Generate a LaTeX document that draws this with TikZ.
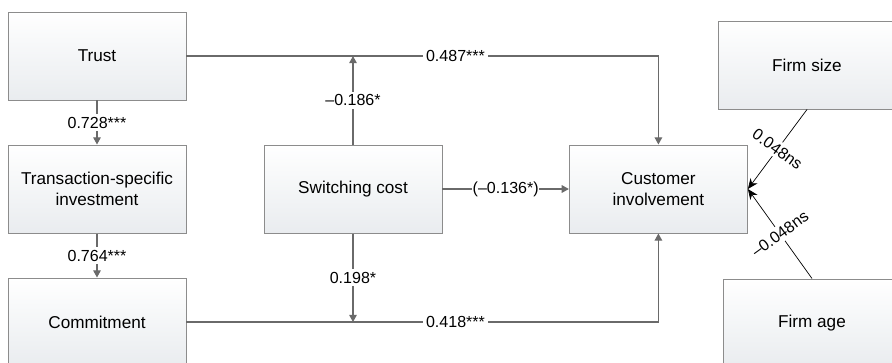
\documentclass[tikz,border=0pt]{standalone}
\usepackage{fontspec}
\setmainfont{Liberation Sans}
\usepackage{xcolor}
\usepackage{tikz}
\usetikzlibrary{arrows.meta,shadows}

\definecolor{linegray}{HTML}{6A6A6A}
\definecolor{boxline}{HTML}{8C8C8C}
\definecolor{boxfoot}{HTML}{E9ECEF}

\begin{document}
\begin{tikzpicture}[
  font=\fontsize{12.2}{15.4}\selectfont,
  varbox/.style={draw=boxline, line width=0.7pt, top color=white, bottom color=boxfoot,
                 minimum width=4.45cm, minimum height=2.2cm, align=center,
                 drop shadow={shadow xshift=0.7pt, shadow yshift=-0.7pt, fill=gray!45}},
  lbl/.style={fill=white, inner sep=2pt, font=\fontsize{11.4}{13}\selectfont},
  arr/.style={-{Triangle[length=1.8mm, width=1.9mm]}, draw=linegray, line width=0.9pt},
  ctrl/.style={-{Stealth[length=2.6mm, width=2.2mm]}, draw=black, line width=0.5pt}
]
\useasboundingbox (0,0) rectangle (22.3,-9.05);
%--- Column 1: trust chain ---------------------------------------------------
\node[varbox] (trust)  at (2.425,-1.4)   {Trust};
\node[varbox] (tsi)    at (2.425,-4.725) {Transaction-specific\\investment};
\node[varbox] (commit) at (2.425,-8.05)  {Commitment};
%--- Middle: moderator and outcome -------------------------------------------
\node[varbox] (switch)  at (8.825,-4.725) {Switching cost};
\node[varbox] (involve) at (16.46,-4.725) {Customer\\involvement};
%--- Right: controls ---------------------------------------------------------
\node[varbox] (fsize) at (20.175,-1.625) {Firm size};
\node[varbox] (fage)  at (20.3,-8.075)   {Firm age};
%--- Arrows: trust chain -----------------------------------------------------
\draw[arr] (trust.south) -- node[lbl]{0.728***} (tsi.north);
\draw[arr] (tsi.south)   -- node[lbl]{0.764***} (commit.north);
%--- Arrows: direct paths to involvement -------------------------------------
\draw[arr] (trust.east) -- node[lbl, pos=0.57]{0.487***} (trust.east -| involve.north) -- (involve.north);
\draw[arr] (commit.east) -- node[lbl, pos=0.57]{0.418***} (commit.east -| involve.south) -- (involve.south);
%--- Arrows: switching cost --------------------------------------------------
\draw[arr] (switch.north) -- node[lbl]{--0.186*} (switch.north |- trust.east);
\draw[arr] (switch.south) -- node[lbl]{0.198*} (switch.south |- commit.east);
\draw[arr] (switch) -- node[lbl, inner sep=0.5pt]{(--0.136*)} (involve);
%--- Arrows: controls --------------------------------------------------------
\draw[ctrl] (fsize.south) -- node[lbl, rotate=-36]{0.048ns} (involve.east);
\draw[ctrl] (fage.north)  -- node[lbl, rotate=36]{--0.048ns} (involve.east);
\end{tikzpicture}
\end{document}
